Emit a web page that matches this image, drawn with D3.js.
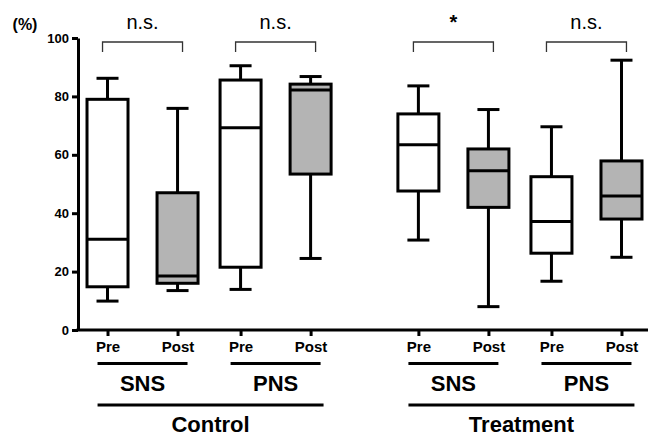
<!DOCTYPE html>
<html>
<head>
<meta charset="utf-8">
<script src="https://cdn.jsdelivr.net/npm/d3@7"></script>
<style>
  body { margin: 0; background: #fff; }
  svg { display: block; font-family: "Liberation Sans", Arial, Helvetica, sans-serif; }
</style>
</head>
<body>
<svg></svg>
<script>
var groups = ["Control", "Treatment"];
var nerves = ["SNS", "PNS"];
var phases = ["Pre", "Post"];

// box summaries, order: Control SNS Pre/Post, Control PNS Pre/Post, Treatment SNS Pre/Post, Treatment PNS Pre/Post
var whiskerLow  = [9.9, 13.5, 13.9, 24.5, 30.8, 8.0, 16.7, 24.9];
var q1          = [14.8, 16.0, 21.5, 53.4, 47.6, 42.0, 26.3, 38.0];
var median      = [31.1, 18.5, 69.3, 82.2, 63.4, 54.5, 37.2, 45.9];
var q3          = [79.0, 47.0, 85.6, 84.2, 74.0, 62.0, 52.5, 57.9];
var whiskerHigh = [86.2, 75.9, 90.5, 86.8, 83.6, 75.5, 69.6, 92.4];

var significance = ["n.s.", "n.s.", "*", "n.s."];
var yTicks = [0, 20, 40, 60, 80, 100];

var svgWidth = 648, svgHeight = 437;
var axisX = 78, axisY = 330, plotTop = 38;
var boxWidth = 41, capWidth = 22;

var svg = d3.select('svg').attr('width', svgWidth).attr('height', svgHeight);

var yScale = d3.scaleLinear().domain([0, 100]).range([axisY, plotTop]);

// nested x scales: group -> nerve -> phase
var groupScale = d3.scaleBand().domain(groups).range([76, 653]).paddingInner(0.144);
var nerveScale = d3.scaleBand().domain(nerves).range([0, groupScale.bandwidth()]);
var phaseScale = d3.scalePoint().domain(phases).range([0, nerveScale.bandwidth()]).padding(0.45);

var boxes = [], pairs = [];
groups.forEach(function (g) {
    nerves.forEach(function (n) {
        pairs.push({group: g, nerve: n, cx: groupScale(g) + nerveScale(n) + nerveScale.bandwidth() / 2});
        phases.forEach(function (p) {
            var i = boxes.length;
            boxes.push({
                key: g + "-" + n + "-" + p, phase: p,
                x: groupScale(g) + nerveScale(n) + phaseScale(p),
                lo: whiskerLow[i], q1: q1[i], med: median[i], q3: q3[i], hi: whiskerHigh[i]
            });
        });
    });
});
pairs.forEach(function (d, i) { d.sig = significance[i]; });

var xScale = d3.scaleOrdinal()
    .domain(boxes.map(function (d) { return d.key; }))
    .range(boxes.map(function (d) { return d.x; }));

// y axis
var yAxis = svg.append("g")
    .attr("transform", "translate(" + axisX + ",0)")
    .call(d3.axisLeft(yScale).tickValues(yTicks).tickSize(6).tickSizeOuter(0).tickPadding(3));
yAxis.selectAll("path, line").attr("stroke", "#000").attr("stroke-width", 3);
yAxis.selectAll("text").attr("font-size", 13).attr("font-weight", "bold").attr("fill", "#000")
    .attr("font-family", "'Liberation Sans', Arial, sans-serif");

// x axis: the long baseline is drawn by hand, ticks come from the ordinal scale
var xAxis = svg.append("g")
    .attr("transform", "translate(0," + axisY + ")")
    .call(d3.axisBottom(xScale).tickSize(6).tickPadding(5)
        .tickFormat(function (k) { return k.split("-")[2]; }));
xAxis.select(".domain").remove();
xAxis.selectAll("line").attr("stroke", "#000").attr("stroke-width", 3);
xAxis.selectAll("text").attr("font-size", 15).attr("font-weight", "bold").attr("fill", "#000")
    .attr("font-family", "'Liberation Sans', Arial, sans-serif");
xAxis.append("line")
    .attr("x1", axisX - 1.5).attr("x2", svgWidth)
    .attr("stroke", "#000").attr("stroke-width", 3);

svg.append("text")
    .attr("x", 25).attr("y", 30)
    .attr("text-anchor", "middle")
    .attr("font-size", 16).attr("font-weight", "bold")
    .text("(%)");

// boxes
var box = svg.selectAll("g.box")
    .data(boxes)
    .enter()
    .append("g")
    .attr("class", "box")
    .attr("transform", function (d) { return "translate(" + xScale(d.key) + ",0)"; });

box.append("line")
    .attr("y1", function (d) { return yScale(d.lo); })
    .attr("y2", function (d) { return yScale(d.hi); })
    .attr("stroke", "#000").attr("stroke-width", 3);

box.selectAll("line.cap")
    .data(function (d) { return [d.lo, d.hi]; })
    .enter()
    .append("line")
    .attr("class", "cap")
    .attr("x1", -capWidth / 2).attr("x2", capWidth / 2)
    .attr("y1", function (v) { return yScale(v); })
    .attr("y2", function (v) { return yScale(v); })
    .attr("stroke", "#000").attr("stroke-width", 3);

box.append("rect")
    .attr("x", -boxWidth / 2)
    .attr("width", boxWidth)
    .attr("y", function (d) { return yScale(d.q3); })
    .attr("height", function (d) { return yScale(d.q1) - yScale(d.q3); })
    .attr("fill", function (d) { return d.phase === "Pre" ? "#fff" : "#b4b4b4"; })
    .attr("stroke", "#000").attr("stroke-width", 3);

box.append("line")
    .attr("x1", -boxWidth / 2).attr("x2", boxWidth / 2)
    .attr("y1", function (d) { return yScale(d.med); })
    .attr("y2", function (d) { return yScale(d.med); })
    .attr("stroke", "#000").attr("stroke-width", 3);

// significance brackets
var pair = svg.selectAll("g.pair")
    .data(pairs)
    .enter()
    .append("g")
    .attr("class", "pair")
    .attr("transform", function (d) { return "translate(" + d.cx + ",0)"; });

pair.append("path")
    .attr("d", "M-40,52V42H40V52")
    .attr("fill", "none").attr("stroke", "#333").attr("stroke-width", 1.3);

pair.append("text")
    .attr("y", 29)
    .attr("text-anchor", "middle")
    .attr("font-size", 20)
    .attr("font-weight", function (d) { return d.sig === "*" ? "bold" : "normal"; })
    .text(function (d) { return d.sig; });

// nerve labels with underline
pair.append("line")
    .attr("x1", -45).attr("x2", 45)
    .attr("y1", 363.5).attr("y2", 363.5)
    .attr("stroke", "#000").attr("stroke-width", 3);

pair.append("text")
    .attr("y", 391)
    .attr("text-anchor", "middle")
    .attr("font-size", 22).attr("font-weight", "bold")
    .text(function (d) { return d.nerve; });

// group labels with underline
var grp = svg.selectAll("g.grp")
    .data(groups)
    .enter()
    .append("g")
    .attr("class", "grp")
    .attr("transform", function (g) { return "translate(" + (groupScale(g) + groupScale.bandwidth() / 2 + 1.5) + ",0)"; });

grp.append("line")
    .attr("x1", -113).attr("x2", 113)
    .attr("y1", 405).attr("y2", 405)
    .attr("stroke", "#000").attr("stroke-width", 3);

grp.append("text")
    .attr("y", 432)
    .attr("text-anchor", "middle")
    .attr("font-size", 22).attr("font-weight", "bold")
    .text(function (g) { return g; });
</script>
</body>
</html>
